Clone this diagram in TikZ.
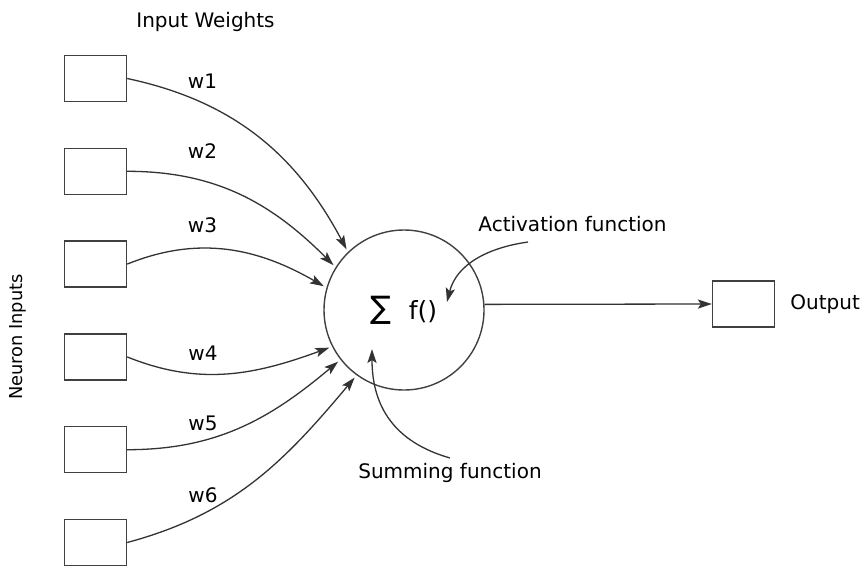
\documentclass[tikz,border=0pt]{standalone}
\usepackage{fontspec}
\setmainfont{DejaVu Sans}
\usetikzlibrary{arrows.meta, positioning}

\begin{document}
\begin{tikzpicture}[
    x=0.5pt, y=0.5pt,
    font=\fontsize{10}{12}\selectfont,
    node distance=22.7pt,
    inbox/.style={rectangle, draw=black!75, line width=0.7pt,
                  minimum width=31pt, minimum height=23pt, inner sep=0pt},
    neuronc/.style={circle, draw=black!75, line width=0.7pt,
                    minimum size=80pt, inner sep=0pt},
    lbl/.style={inner sep=0pt, anchor=base},
    flow/.style={-{Stealth[length=7pt, width=4.6pt, inset=1.5pt]}, draw=black!80, line width=0.65pt},
  ]
    \useasboundingbox (0,0) rectangle (866,-568);

    % inputs
    \node[inbox] (in1) at (95.5,-78.5) {};
    \node[inbox, below=of in1] (in2) {};
    \node[inbox, below=of in2] (in3) {};
    \node[inbox, below=of in3] (in4) {};
    \node[inbox, below=of in4] (in5) {};
    \node[inbox, below=of in5] (in6) {};
    \node[rotate=90, font=\fontsize{8.9}{10}\selectfont] (inlbl) at (18,-337) {Neuron Inputs};
    \node[lbl] (title) at (205.5,-27) {Input Weights};

    % neuron
    \node[neuronc] (neuron) at (404,-310) {};
    \node (sigma) at (381,-310) {\fontsize{15.5}{16}\selectfont ∑};
    \node (fn) at (423,-311.5) {\fontsize{12.5}{14}\selectfont f()};

    % output
    \node[inbox] (outbox) at (743.5,-304) {};
    \node[lbl, anchor=base west] (outlbl) at (790,-309) {Output};

    % weights
    \node[lbl] (w1) at (202.5,-88) {w1};
    \node[lbl] (w2) at (202.5,-158) {w2};
    \node[lbl] (w3) at (202.5,-232) {w3};
    \node[lbl] (w4) at (203,-360) {w4};
    \node[lbl] (w5) at (203,-430) {w5};
    \node[lbl] (w6) at (203,-502) {w6};

    \node[lbl] (actlbl) at (572.5,-231) {Activation function};
    \node[lbl] (sumlbl) at (450,-478) {Summing function};

    \draw[flow, shorten >=1.5pt] (in1.east) to[out=-12, in=118] (neuron.134);
    \draw[flow, shorten >=1.5pt] (in2.east) to[out=0, in=135] (neuron.148);
    \draw[flow, shorten >=1.5pt] (in3.east) to[out=22, in=150] (neuron.164);
    \draw[flow, shorten >=1.5pt] (in4.east) to[out=-22, in=200] (neuron.207);
    \draw[flow, shorten >=1.5pt] (in5.east) to[out=0, in=220] (neuron.218);
    \draw[flow, shorten >=1.5pt] (in6.east) to[out=15, in=230] (neuron.234);

    \coordinate (acttail) at (528,-242);
    \coordinate (acttip) at (447,-302);
    \draw[flow] (acttail) to[out=188, in=76] (acttip);
    \coordinate (sumtail) at (450,-458);
    \coordinate (sumtip) at (372,-349);
    \draw[flow] (sumtail) to[out=164, in=-90, looseness=1.1] (sumtip);

    \draw[flow] (neuron.4) -- (outbox.west);
\end{tikzpicture}
\end{document}
